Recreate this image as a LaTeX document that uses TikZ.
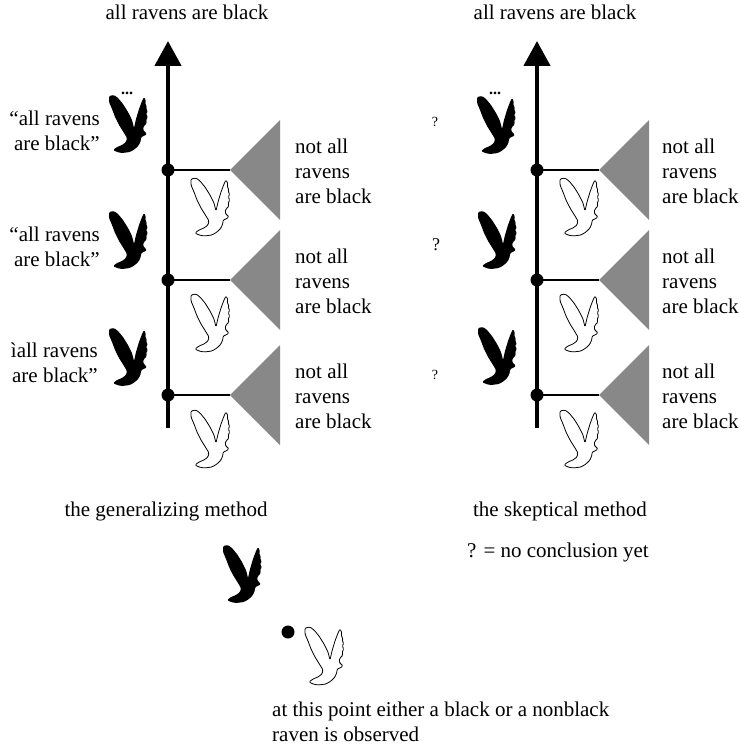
\documentclass[tikz,border=0pt]{standalone}
\usepackage{fontspec}
\setmainfont{Liberation Serif}
\usetikzlibrary{arrows.meta,decorations.pathmorphing}

\newcommand\figfont{\fontsize{21}{25}\selectfont}
\newcommand\qfont{\fontsize{14}{16}\selectfont}
\definecolor{fangray}{RGB}{136,136,136}

\tikzset{
  lbl/.style={inner sep=0pt, font=\figfont},
  qmark/.style={inner sep=0pt, font=\qfont},
  joint/.style={circle, fill=black, inner sep=0pt, minimum size=13pt},
  axis/.style={line width=4.5pt, -{Triangle[width=26pt,length=25pt]}},
  branch/.style={line width=1.2pt},
  fan/.style={fill=fangray},
  dots/.style={inner sep=0pt, font=\fontsize{16}{18}\selectfont\bfseries},
  % a raven with raised wings, 40 wide and 58 high, origin at its top left
  bird/.pic={
    \path[pic actions, rounded corners=1.2pt]
      (1,1) -- (6,0) -- (10,3) -- (15,9) -- (20,17) -- (24,25) -- (26,33)
      -- (28,24) -- (31,14) -- (34,6) -- (36,2)
      -- (38,6) -- (37,9) -- (39,11) -- (38,14) -- (40,16) -- (38,19)
      -- (40,22) -- (38,25) -- (39,28) -- (36,31) -- (35,34)
      -- (36,36) -- (39,39) -- (36,41) -- (33,42)
      -- (33,45) -- (31,50) -- (27,54) -- (22,57) -- (14,58) -- (9,57)
      -- (5,55) -- (9,52) -- (14,50) -- (18,47) -- (19,43)
      -- (16,38) -- (11,30) -- (7,22) -- (4,14) -- (1,7) -- cycle;
  },
  blackbird/.style={fill=black},
  whitebird/.style={draw=black, fill=white, line width=0.8pt,
    decorate, decoration={random steps, segment length=1.6pt, amplitude=0.45pt}},
}

\begin{document}
\begin{tikzpicture}[x=1pt, y=-1pt]
\useasboundingbox (0,0) rectangle (740,752);

% ---------- the generalizing method ----------
\coordinate (Lbot) at (168,428);
\coordinate (Ltop) at (168,41);
\draw[axis] (Lbot) -- (Ltop);
\node[lbl, anchor=base] (Lgoal) at (187,20) {all ravens are black};

\node[joint] (L1) at (168,170) {};
\node[joint] (L2) at (168,280) {};
\node[joint] (L3) at (168,395) {};
\coordinate (LT1) at (230,170);
\coordinate (LT2) at (230,280);
\coordinate (LT3) at (230,395);
\foreach \i in {1,2,3} {
  \draw[branch] (L\i.center) -- (LT\i);
  \fill[fan] (LT\i) -- ++(50,-50) -- ++(0,100) -- cycle;
}
\node[lbl, anchor=base west] (LN1) at (295,153) {\begin{tabular}[t]{@{}l@{}}not all\\ravens\\are black\end{tabular}};
\node[lbl, anchor=base west] (LN2) at (295,263) {\begin{tabular}[t]{@{}l@{}}not all\\ravens\\are black\end{tabular}};
\node[lbl, anchor=base west] (LN3) at (295,378) {\begin{tabular}[t]{@{}l@{}}not all\\ravens\\are black\end{tabular}};

\node[lbl, anchor=base east] (LC1) at (100,125) {\begin{tabular}[t]{@{}r@{}}“all ravens\\are black”\end{tabular}};
\node[lbl, anchor=base east] (LC2) at (100,241) {\begin{tabular}[t]{@{}r@{}}“all ravens\\are black”\end{tabular}};
\node[lbl, anchor=base east] (LC3) at (98,357) {\begin{tabular}[t]{@{}r@{}}ìall ravens\\are black”\end{tabular}};

\node[dots, anchor=base] (Ldots) at (127,95) {...};
\pic[blackbird] at (108,95) {bird};
\pic[blackbird] at (108,211) {bird};
\pic[blackbird] at (108,328) {bird};
\pic[whitebird] at (190,178) {bird};
\pic[whitebird] at (190,294) {bird};
\pic[whitebird] at (190,410) {bird};

\node[lbl, anchor=base] (Lname) at (166,516) {the generalizing method};

% ---------- the skeptical method ----------
\coordinate (Rbot) at (537,428);
\coordinate (Rtop) at (537,41);
\draw[axis] (Rbot) -- (Rtop);
\node[lbl, anchor=base] (Rgoal) at (555,20) {all ravens are black};

\node[joint] (R1) at (537,170) {};
\node[joint] (R2) at (537,280) {};
\node[joint] (R3) at (537,395) {};
\coordinate (RT1) at (599,170);
\coordinate (RT2) at (599,280);
\coordinate (RT3) at (599,395);
\foreach \i in {1,2,3} {
  \draw[branch] (R\i.center) -- (RT\i);
  \fill[fan] (RT\i) -- ++(50,-50) -- ++(0,100) -- cycle;
}
\node[lbl, anchor=base west] (RN1) at (662,153) {\begin{tabular}[t]{@{}l@{}}not all\\ravens\\are black\end{tabular}};
\node[lbl, anchor=base west] (RN2) at (662,263) {\begin{tabular}[t]{@{}l@{}}not all\\ravens\\are black\end{tabular}};
\node[lbl, anchor=base west] (RN3) at (662,378) {\begin{tabular}[t]{@{}l@{}}not all\\ravens\\are black\end{tabular}};

\node[qmark] (RQ1) at (435,122) {?};
\node[qmark, font=\fontsize{18}{20}\selectfont] (RQ2) at (436,245) {?};
\node[qmark] (RQ3) at (435,375) {?};

\node[dots, anchor=base] (Rdots) at (495,95) {...};
\pic[blackbird] at (476,96) {bird};
\pic[blackbird] at (477,211) {bird};
\pic[blackbird] at (477,327) {bird};
\pic[whitebird] at (559,178) {bird};
\pic[whitebird] at (559,294) {bird};
\pic[whitebird] at (559,410) {bird};

\node[lbl, anchor=base] (Rname) at (560,516) {the skeptical method};
\node[lbl, anchor=base west] (Rkey) at (467,557) {? = no conclusion yet};

% ---------- the observation step ----------
\pic[blackbird] at (222,545) {bird};
\node[joint] (obs) at (288,632) {};
\pic[whitebird] at (304,627) {bird};
\node[lbl, anchor=base west] (obsnote) at (272,716) {\begin{tabular}[t]{@{}l@{}}at this point either a black or a nonblack\\raven is observed\end{tabular}};
\end{tikzpicture}
\end{document}
